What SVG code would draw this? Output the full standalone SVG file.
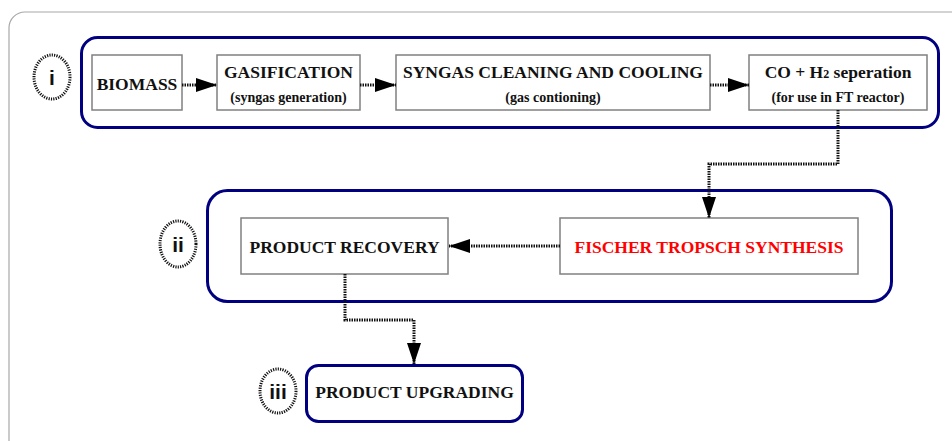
<svg xmlns="http://www.w3.org/2000/svg" width="952" height="441" viewBox="0 0 952 441">
<defs>
<style>
.frame{fill:none;stroke:#a8a8a8;stroke-width:1.2}
.grp{fill:none;stroke:#000080;stroke-width:3}
.box{fill:#fff;stroke:#808080;stroke-width:1.5}
.t{font-family:"Liberation Serif","Times New Roman",serif;font-weight:bold;fill:#111;text-anchor:middle}
.big{font-size:17.5px}
.small{font-size:14px}
.red{fill:#ff0000}
.num{font-family:"Liberation Sans",Arial,sans-serif;font-weight:bold;font-size:21px;fill:#111;text-anchor:middle}
.ring{fill:#fff;stroke:#111;stroke-width:3;stroke-dasharray:1.2 1.2}
.conn{fill:none;stroke:#111;stroke-width:3;stroke-dasharray:1.5 1}
</style>
<marker id="ah" markerWidth="21" markerHeight="14" refX="21" refY="7" orient="auto" markerUnits="userSpaceOnUse">
<path d="M0,0 L21,7 L0,14 Z" fill="#000"/>
</marker>
</defs>
<rect width="952" height="441" fill="#fff"/>
<rect class="frame" x="9" y="12" width="980" height="470" rx="16"/>

<g id="stage-i">
<rect class="grp" x="81.5" y="37.5" width="857" height="90" rx="16"/>
<ellipse class="ring" cx="52" cy="77" rx="18" ry="22"/>
<text class="num" x="52" y="85">i</text>
</g>
<g id="biomass">
<rect class="box" x="92" y="55" width="90" height="55"/>
<text class="t big" x="137" y="90">BIOMASS</text>
</g>
<g id="gasification">
<rect class="box" x="217" y="55" width="143" height="55"/>
<text class="t big" x="288.5" y="78">GASIFICATION</text>
<text class="t small" x="288.5" y="102">(syngas generation)</text>
</g>
<g id="syngas">
<rect class="box" x="396" y="55" width="314" height="55"/>
<text class="t big" x="553" y="78">SYNGAS CLEANING AND COOLING</text>
<text class="t small" x="553" y="102">(gas contioning)</text>
</g>
<g id="separation">
<rect class="box" x="749" y="55" width="178" height="55"/>
<text class="t big" x="838" y="78">CO + H<tspan font-size="12px">2</tspan> seperation</text>
<text class="t small" x="838" y="102">(for use in FT reactor)</text>
</g>

<g id="stage-ii">
<rect class="grp" x="207.5" y="190.5" width="684" height="111" rx="20"/>
<ellipse class="ring" cx="178" cy="244" rx="18" ry="23"/>
<text class="num" x="178" y="252">ii</text>
</g>
<g id="recovery">
<rect class="box" x="241" y="218" width="207" height="56"/>
<text class="t big" x="344.5" y="253">PRODUCT RECOVERY</text>
</g>
<g id="fischer">
<rect class="box" x="560" y="218" width="298" height="56"/>
<text class="t big red" x="709" y="253">FISCHER TROPSCH SYNTHESIS</text>
</g>

<g id="stage-iii">
<ellipse class="ring" cx="278" cy="391" rx="18" ry="22"/>
<text class="num" x="278" y="399">iii</text>
</g>
<g id="upgrading">
<rect class="grp" x="306.5" y="365.5" width="216" height="56" rx="12"/>
<text class="t big" x="414.5" y="398">PRODUCT UPGRADING</text>
</g>

<g id="connectors">
<path class="conn" d="M182,85 L217,85" marker-end="url(#ah)"/>
<path class="conn" d="M360,85 L396,85" marker-end="url(#ah)"/>
<path class="conn" d="M710,85 L749,85" marker-end="url(#ah)"/>
<path class="conn" d="M838,110 L838,164 L709,164 L709,218" marker-end="url(#ah)"/>
<path class="conn" d="M560,246 L449,246" marker-end="url(#ah)"/>
<path class="conn" d="M345,274 L345,320 L414,320 L414,364" marker-end="url(#ah)"/>
</g>
</svg>
